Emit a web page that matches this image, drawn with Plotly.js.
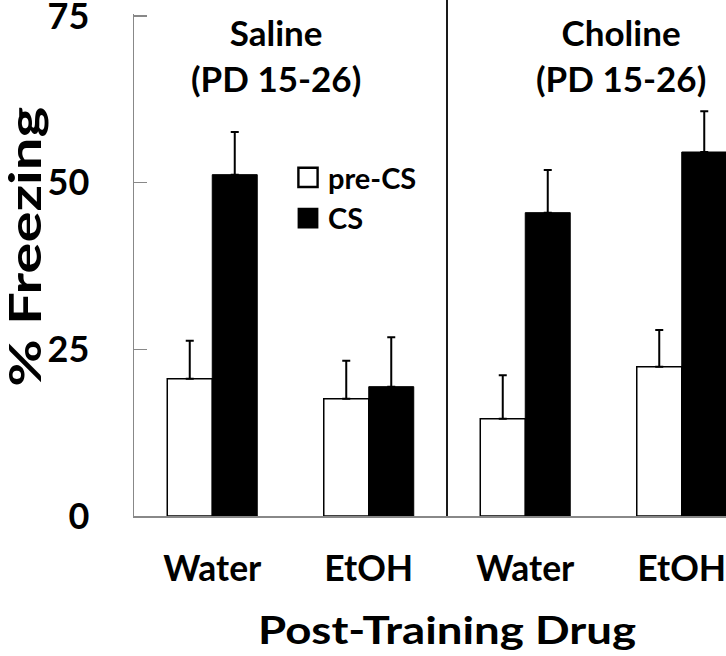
<!DOCTYPE html>
<html>
<head>
<meta charset="utf-8">
<script src="https://cdn.plot.ly/plotly-3.0.1.min.js"></script>
<style>
  html, body { margin: 0; padding: 0; overflow: hidden; background: #fff; }
  #chart { width: 760px; height: 656px; }
</style>
</head>
<body>
<div id="chart"></div>
<script>
// ---- data ----
const drugs      = ['Water', 'EtOH', 'Water', 'EtOH'];   // tick labels
const positions  = [0, 1, 2, 3];                        // group index
const preCS      = [20.6, 17.6, 14.6, 22.4];
const preCSerr   = [5.7, 5.7, 6.5, 5.5];
const cs         = [51.2, 19.4, 45.5, 54.6];
const csErr      = [6.4, 7.4, 6.4, 6.1];
const zeros      = [0, 0, 0, 0];
const panelLabels = ['Saline<br>(PD 15-26)', 'Choline<br>(PD 15-26)'];
const yTicks     = [0, 25, 50, 75];

const FONT = 'Lato, "Open Sans", sans-serif';

const traces = [
  {
    type: 'bar', name: 'pre-CS', x: positions, y: preCS,
    marker: { color: '#ffffff', line: { color: '#000000', width: 1.5 } },
    error_y: { type: 'data', array: preCSerr, arrayminus: zeros, symmetric: false,
               color: '#000000', thickness: 2, width: 4 }
  },
  {
    type: 'bar', name: 'CS', x: positions, y: cs,
    marker: { color: '#000000', line: { color: '#000000', width: 1 } },
    error_y: { type: 'data', array: csErr, arrayminus: zeros, symmetric: false,
               color: '#000000', thickness: 2, width: 4 }
  }
];

const layout = {
  width: 760, height: 656,
  margin: { l: 134, r: 0, t: 14, b: 140, pad: 0 },
  paper_bgcolor: '#ffffff', plot_bgcolor: '#ffffff',
  barmode: 'group', bargap: 0.425, bargroupgap: 0,
  font: { family: FONT, color: '#000000', weight: 700 },
  showlegend: true,
  legend: {
    x: 0.246, y: 0.725, xanchor: 'left', yanchor: 'top',
    bgcolor: 'rgba(0,0,0,0)', borderwidth: 0,
    font: { family: FONT, size: 29, color: '#000000', weight: 700 },
    tracegroupgap: 0
  },
  xaxis: {
    range: [-0.5, 3.5], tickvals: positions, ticktext: drugs,
    showgrid: false, zeroline: false, showline: true, linecolor: '#888888', linewidth: 1.5,
    ticks: '', ticklabelstandoff: 21,
    tickfont: { family: FONT, size: 35.5, color: '#000000', weight: 700 },
    title: { text: 'Post-Training Drug', standoff: 29,
             font: { family: FONT, size: 38, color: '#000000', weight: 700 } },
    automargin: false
  },
  yaxis: {
    range: [0, 75.3], tickvals: yTicks, ticktext: yTicks.map(String),
    showgrid: false, zeroline: false, showline: true, linecolor: '#888888', linewidth: 1.5,
    ticks: 'inside', ticklen: 13, tickwidth: 1.5, tickcolor: '#888888',
    ticklabelstandoff: 36, ticklabeloverflow: 'allow',
    tickfont: { family: FONT, size: 36, color: '#000000', weight: 700 },
    automargin: false
  },
  shapes: [
    { type: 'line', xref: 'x', yref: 'paper', x0: 1.5, x1: 1.5, y0: 0, y1: 1.04,
      line: { color: '#1a1a1a', width: 2 } }
  ],
  annotations: [
    { text: panelLabels[0], xref: 'x', yref: 'y', x: 0.407, y: 69.2,
      xanchor: 'center', yanchor: 'middle', showarrow: false, align: 'center',
      font: { family: FONT, size: 35, color: '#000000', weight: 700 } },
    { text: panelLabels[1], xref: 'x', yref: 'y', x: 2.61, y: 69.2,
      xanchor: 'center', yanchor: 'middle', showarrow: false, align: 'center',
      font: { family: FONT, size: 35, color: '#000000', weight: 700 } },
    { text: '% Freezing', xref: 'paper', yref: 'paper', x: -0.176, y: 0.536,
      xanchor: 'center', yanchor: 'middle', showarrow: false, textangle: -90,
      font: { family: FONT, size: 44, color: '#000000', weight: 700 } }
  ]
};

Plotly.newPlot('chart', traces, layout, { staticPlot: true, displayModeBar: false }).then(function (gd) {
  // stretch the axis titles to match the reference's elongated lettering
  gd.querySelectorAll('text.annotation-text').forEach(function (t) {
    if (t.textContent === '% Freezing') {
      t.setAttribute('textLength', '280');
      t.setAttribute('lengthAdjust', 'spacingAndGlyphs');
    }
  });
  gd.querySelectorAll('text.xtitle').forEach(function (t) {
    t.setAttribute('textLength', '378');
    t.setAttribute('lengthAdjust', 'spacingAndGlyphs');
  });
  // enlarge legend swatches (keep Plotly's own transform)
  gd.querySelectorAll('.legendpoints path').forEach(function (p) {
    const tr = p.getAttribute('transform') || '';
    p.setAttribute('transform', tr + ' scale(1.6)');
  });
});
</script>
</body>
</html>
